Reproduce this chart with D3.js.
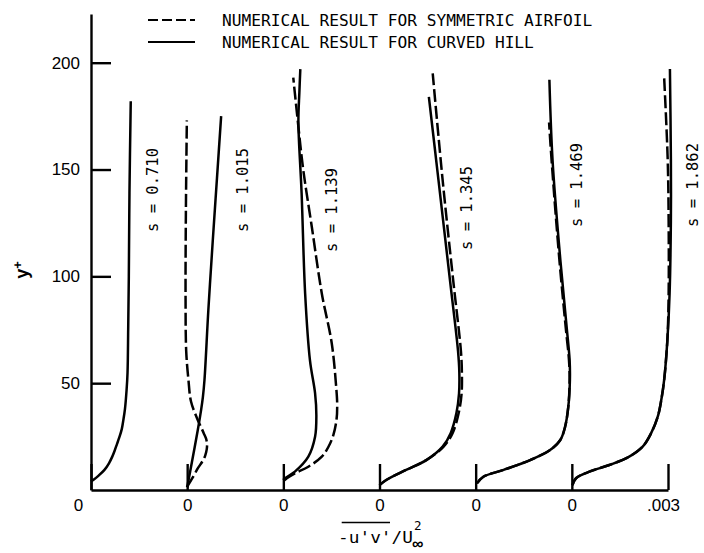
<!DOCTYPE html>
<html>
<head>
<meta charset="utf-8">
<script src="https://cdn.jsdelivr.net/npm/d3@7/dist/d3.min.js"></script>
<style>
  html, body { margin: 0; padding: 0; background: #fff; }
  svg { display: block; }
  .mono { font-family: "DejaVu Sans Mono", "Liberation Mono", monospace; }
  .sans { font-family: "Liberation Sans", Arial, sans-serif; }
</style>
</head>
<body>
<svg id="chart" width="704" height="553"></svg>
<script>
// Station labels, one profile panel each (left to right)
const stations = ["s = 0.710", "s = 1.015", "s = 1.139", "s = 1.345", "s = 1.469", "s = 1.862"];
const yTicks = [50, 100, 150, 200];
const xTickLabels = ["0", "0", "0", "0", "0", "0", ".003"];
const panelWidth = 0.003;   // each panel spans 0 .. .003 of -u'v'/U∞²

// Shear-stress profiles, [ -u'v'/U∞² , y+ ], measured from each panel's own zero
const hill0710 = [[0.00000, 4.0], [0.00010, 5.0], [0.00022, 6.5], [0.00042, 9.4], [0.00056, 12.5],
  [0.00066, 15.5], [0.00074, 18.5], [0.00081, 21.5], [0.00088, 24.5], [0.00096, 28.5],
  [0.00101, 32.8], [0.00106, 38.0], [0.00111, 46.8], [0.00114, 55.0], [0.00116, 75.0],
  [0.00118, 100.0], [0.00120, 139.0], [0.00124, 182.0]];
const hill1015 = [[0.00000, 1.3], [0.00016, 14.0], [0.00033, 28.0], [0.00044, 38.0], [0.00049, 43.5],
  [0.00054, 51.5], [0.00066, 84.0], [0.00080, 117.0], [0.00093, 146.0], [0.00106, 175.0]];
const hill1139 = [[0.00000, 4.7], [0.00005, 5.5], [0.00036, 8.6], [0.00078, 15.6], [0.00099, 24.9],
  [0.00103, 35.1], [0.00099, 45.3], [0.00083, 60.8], [0.00068, 92.0], [0.00057, 139.0],
  [0.00047, 172.0], [0.00050, 186.0], [0.00053, 197.0]];
const hill1345 = [[0.00000, 2.3], [0.00021, 4.7], [0.00083, 9.4], [0.00146, 14.0], [0.00197, 20.3],
  [0.00222, 26.6], [0.00240, 36.0], [0.00248, 45.0], [0.00249, 55.0], [0.00245, 65.0],
  [0.00220, 98.0], [0.00184, 145.0], [0.00154, 184.0]];
const hill1469 = [[0.00004, 3.1], [0.00024, 6.2], [0.00087, 9.4], [0.00170, 14.0], [0.00232, 18.7],
  [0.00264, 23.4], [0.00279, 29.6], [0.00289, 39.0], [0.00294, 51.5], [0.00293, 61.0],
  [0.00284, 76.0], [0.00264, 108.0], [0.00240, 154.0], [0.00230, 192.0]];
const hill1862 = [[0.00002, 2.3], [0.00013, 5.5], [0.00055, 8.6], [0.00117, 11.7], [0.00179, 15.6],
  [0.00221, 20.3], [0.00247, 26.5], [0.00268, 34.3], [0.00279, 42.1], [0.00288, 51.5],
  [0.00298, 70.0], [0.00305, 92.0], [0.00309, 126.0], [0.00309, 155.0], [0.00306, 197.0]];

const airfoil1015 = [[-0.00001, 1.3], [0.00018, 6.0], [0.00033, 10.1], [0.00048, 13.5], [0.00056, 16.0],
  [0.00061, 19.0], [0.00062, 21.5], [0.00059, 24.0], [0.00052, 26.5], [0.00043, 29.5],
  [0.00033, 32.8], [0.00012, 41.4], [0.00004, 51.5], [-0.00003, 65.0], [-0.00005, 90.0],
  [-0.00004, 130.0], [-0.00001, 173.0]];
const airfoil1139 = [[0.00003, 4.5], [0.00011, 5.5], [0.00036, 7.8], [0.00078, 10.9], [0.00120, 15.6],
  [0.00140, 20.0], [0.00156, 25.7], [0.00166, 33.0], [0.00168, 40.0], [0.00165, 48.0],
  [0.00151, 68.7], [0.00120, 92.0], [0.00089, 123.0], [0.00062, 150.0], [0.00047, 170.0], [0.00031, 193.0]];
const airfoil1345 = [[0.00000, 2.3], [0.00021, 4.7], [0.00083, 9.4], [0.00146, 14.0], [0.00200, 20.3],
  [0.00228, 26.6], [0.00247, 36.0], [0.00256, 45.0], [0.00257, 55.0], [0.00254, 65.0],
  [0.00230, 98.0], [0.00197, 145.0], [0.00166, 195.0]];
const airfoil1469 = [[0.00004, 3.1], [0.00024, 6.2], [0.00087, 9.4], [0.00170, 14.0], [0.00232, 18.7],
  [0.00264, 23.4], [0.00279, 29.6], [0.00289, 39.0], [0.00293, 51.5], [0.00291, 61.0],
  [0.00281, 76.0], [0.00261, 108.0], [0.00237, 154.0], [0.00229, 172.0]];
const airfoil1862 = [[0.00002, 2.3], [0.00013, 5.5], [0.00055, 8.6], [0.00117, 11.7], [0.00179, 15.6],
  [0.00221, 20.3], [0.00247, 26.5], [0.00268, 34.3], [0.00279, 42.1], [0.00288, 51.5],
  [0.00298, 70.0], [0.00302, 92.0], [0.00302, 126.0], [0.00299, 155.0], [0.00288, 193.0]];

const hillProfiles = [hill0710, hill1015, hill1139, hill1345, hill1469, hill1862];
const airfoilProfiles = [null, airfoil1015, airfoil1139, airfoil1345, airfoil1469, airfoil1862];

// ---------------------------------------------------------------
const svg = d3.select("#chart");

const x = d3.scaleLinear().domain([0, 6 * panelWidth]).range([91, 668]);
const y = d3.scaleLinear().domain([0, 200]).range([490, 62.7]);
const yTop = y.invert(14);

// y axis: ticks point into the plot, labels on the left
const yAxisG = svg.append("g")
  .attr("transform", `translate(${x(0)},0)`)
  .call(d3.axisLeft(y.copy().domain([0, yTop]).range([490, 14]))
    .tickValues(yTicks).tickSizeInner(-20).tickSizeOuter(0).tickPadding(11));
yAxisG.select(".domain").attr("stroke", "#000").attr("stroke-width", 2.4);
yAxisG.selectAll(".tick line").attr("stroke", "#000").attr("stroke-width", 2.4);
yAxisG.selectAll(".tick text").attr("class", "sans").attr("font-size", 17).attr("fill", "#000");

// baseline with one zero tick per panel
const xAxisG = svg.append("g")
  .attr("transform", `translate(0,${y(0)})`)
  .call(d3.axisBottom(x)
    .tickValues(d3.range(7).map(i => i * panelWidth))
    .tickSizeInner(-26).tickSizeOuter(0).tickPadding(9)
    .tickFormat((d, i) => xTickLabels[i]));
xAxisG.select(".domain").attr("stroke", "#000").attr("stroke-width", 2.4);
xAxisG.selectAll(".tick line").attr("stroke", "#000").attr("stroke-width", 2.4);
xAxisG.selectAll(".tick text").attr("class", "sans").attr("font-size", 17).attr("fill", "#000")
  .attr("dx", (d, i) => i === 0 ? -13 : (i === 6 ? -5 : 0));

// profiles
const line = offset => d3.line()
  .x(d => x(d[0] + offset))
  .y(d => y(d[1]))
  .curve(d3.curveCatmullRom.alpha(0.5));

const plot = svg.append("g").attr("fill", "none").attr("stroke", "#000").attr("stroke-linejoin", "round");

airfoilProfiles.forEach((p, i) => {
  if (!p) return;
  plot.append("path").attr("d", line(i * panelWidth)(p))
    .attr("stroke-width", 2.5).attr("stroke-dasharray", "13,4");
});
hillProfiles.forEach((p, i) => {
  plot.append("path").attr("d", line(i * panelWidth)(p)).attr("stroke-width", 2.5);
});

// station labels, written upward
const labelPos = [[153, 190], [243, 190], [332, 210], [467, 208], [577, 185], [693, 185]];
svg.append("g").selectAll("text").data(stations).join("text")
  .attr("class", "mono")
  .attr("font-size", 15.5)
  .attr("text-anchor", "middle")
  .attr("dy", "0.35em")
  .attr("transform", (d, i) => `translate(${labelPos[i][0]},${labelPos[i][1]}) rotate(-90)`)
  .text(d => d);

// y axis title
svg.append("text").attr("class", "sans").attr("font-size", 18).attr("font-weight", "bold")
  .attr("transform", "translate(22,270) rotate(-90)").attr("text-anchor", "middle").attr("dy", "0.35em")
  .call(t => {
    t.append("tspan").text("y");
    t.append("tspan").attr("dy", "-0.45em").attr("font-size", 13).text("+");
  });

// x axis title: overline over -u'v', U with stacked 2 and ∞
const xt = svg.append("g");
xt.append("text").attr("class", "mono").attr("font-size", 16.5)
  .attr("x", 338).attr("y", 543).attr("textLength", 75).attr("lengthAdjust", "spacingAndGlyphs")
  .text("-u'v'/U");
xt.append("line").attr("x1", 341.7).attr("x2", 390).attr("y1", 522.5).attr("y2", 522.5)
  .attr("stroke", "#000").attr("stroke-width", 1.4);
xt.append("text").attr("class", "mono").attr("font-size", 12.5).attr("x", 414).attr("y", 530).text("2");
xt.append("text").attr("class", "sans").attr("font-size", 16).attr("font-weight", "bold")
  .attr("x", 412).attr("y", 548.5).text("∞");

// legend
const legend = [
  { label: "NUMERICAL RESULT FOR SYMMETRIC AIRFOIL", dash: "10,4", y: 20 },
  { label: "NUMERICAL RESULT FOR CURVED HILL", dash: null, y: 42 }
];
const lg = svg.append("g").selectAll("g").data(legend).join("g");
lg.append("line").attr("x1", 148).attr("x2", 195).attr("y1", d => d.y).attr("y2", d => d.y)
  .attr("stroke", "#000").attr("stroke-width", 2.2).attr("stroke-dasharray", d => d.dash);
lg.append("text").attr("class", "mono").attr("font-size", 16.2)
  .attr("x", 222).attr("y", d => d.y + 6).text(d => d.label);
</script>
</body>
</html>
